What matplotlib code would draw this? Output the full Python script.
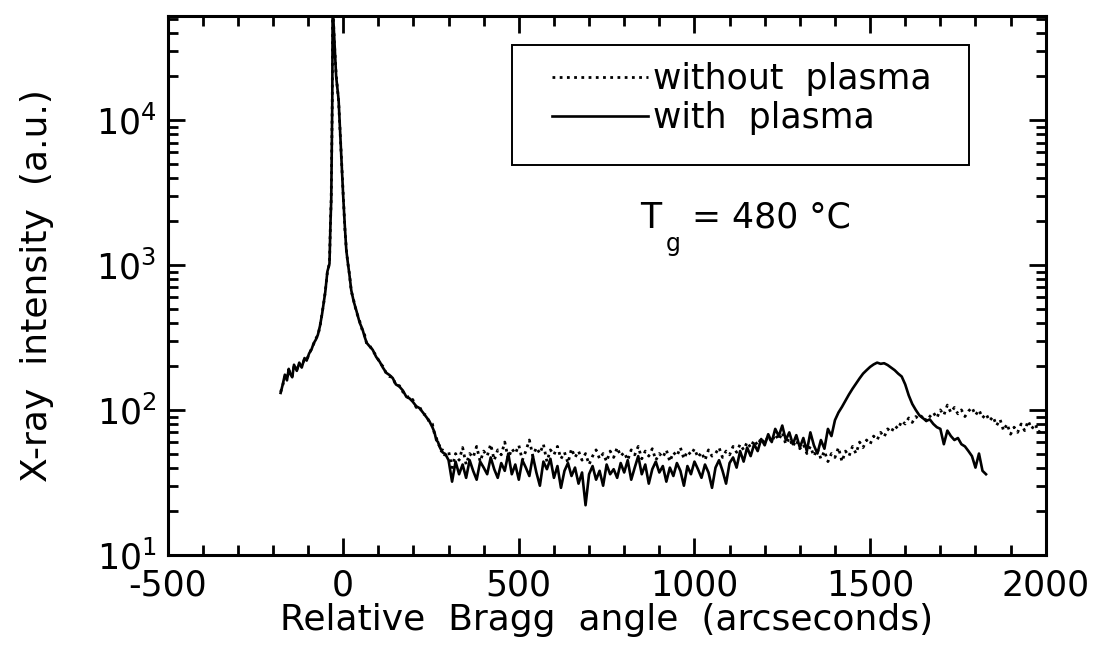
import numpy as np
import matplotlib
matplotlib.use('Agg')
import matplotlib.pyplot as plt
from matplotlib.ticker import LogLocator, FixedLocator, NullFormatter
from matplotlib.patches import Rectangle

plt.rcParams['font.family'] = ['DejaVu Sans']
plt.rcParams['axes.unicode_minus'] = False

# --- Bragg peak region ---
peak_x = [-178, -172, -166, -160, -155, -150, -145, -140, -132, -125, -118, -110,
          -104, -97, -90, -84, -78, -72, -66, -60, -55, -51, -45, -39, -36, -34,
          -31, -30, -28, -25, -20, -13, -6, 0, 5, 9, 13, 18, 23, 30, 37, 47, 55,
          61, 67, 75, 84, 94, 104, 113, 123, 132, 141, 150, 160, 170, 180, 189,
          198, 208, 217, 227, 237, 245, 254, 260, 265, 270, 274, 279, 283, 288, 294]
peak_with = [131, 150, 175, 160, 192, 176, 168, 205, 186, 212, 196, 228,
             219, 245, 262, 288, 305, 330, 380, 460, 560, 650, 900, 1020, 2000, 2800,
             13800, 60000, 50000, 35000, 20000, 13800, 6100, 3000, 1800, 1260, 1050, 850, 670, 560, 490, 400, 360,
             320, 290, 275, 260, 232, 215, 196, 180, 174, 166, 150, 145, 136, 123, 120,
             114, 106, 103, 96, 89, 84, 76, 70, 62, 60, 56, 53, 51, 50, 48]
peak_without = [133, 148, 170, 163, 188, 178, 170, 200, 190, 208, 199, 225,
                222, 242, 265, 285, 310, 328, 375, 465, 555, 655, 890, 1030, 2050, 2900,
                14000, 61000, 50500, 34000, 20500, 13500, 6200, 3100, 1750, 1280, 1040, 860, 660, 570, 480, 410, 350,
                330, 285, 280, 255, 238, 212, 200, 178, 170, 168, 148, 147, 133, 128, 117,
                118, 104, 106, 94, 92, 82, 80, 68, 65, 58, 57, 52, 53, 49, 50]

# --- background / layer peak region, 10 arcsec steps ---
with_x = np.arange(300, 1840, 10)
with_y = [45, 32, 44, 36, 42, 34, 45, 38, 33, 44,
          40, 36, 47, 39, 34, 43, 38, 50, 36, 42,
          33, 45, 40, 35, 48, 37, 30, 44, 39, 46,
          34, 41, 29, 38, 43, 35, 40, 31, 37, 22,
          36, 41, 33, 38, 30, 42, 36, 39, 34, 43,
          37, 45, 33, 40, 48, 36, 42, 31, 39, 44,
          37, 41, 32, 40, 35, 43, 38, 30, 41, 36,
          44, 39, 34, 42, 37, 29, 40, 45, 38, 31,
          43, 47, 40, 52, 44, 55, 48, 58, 52, 63,
          57, 68, 60, 74, 66, 78, 62, 70, 58, 67,
          55, 64, 52, 70, 57, 50, 62, 54, 74, 66,
          85, 96, 105, 116, 128, 140, 152, 165, 178, 188,
          198, 206, 212, 208, 210, 204, 196, 188, 178, 170,
          150, 126, 110, 100, 92, 88, 84, 86, 80, 76,
          74, 58, 72, 66, 62, 64, 58, 56, 52, 48,
          40, 50, 38, 36]

without_x = np.arange(300, 2000, 10)
without_y = [52, 40, 50, 45, 55, 42, 50, 47, 56, 44,
             52, 48, 58, 45, 53, 49, 60, 46, 54, 50,
             57, 45, 52, 62, 48, 55, 50, 58, 44, 53,
             49, 56, 46, 51, 43, 54, 47, 52, 45, 50,
             42, 48, 53, 46, 50, 44, 52, 47, 55, 48,
             51, 45, 53, 49, 56, 46, 52, 48, 54, 45,
             50, 47, 53, 44, 51, 48, 55, 46, 52, 49,
             54, 47, 51, 45, 53, 48, 50, 55, 47, 52,
             49, 56, 51, 58, 53, 60, 55, 62, 57, 64,
             59, 66, 60, 68, 62, 70, 58, 64, 56, 62,
             54, 58, 50, 56, 48, 54, 46, 52, 44, 50,
             47, 55, 44, 52, 48, 56, 50, 60, 55, 62,
             58, 66, 62, 70, 65, 74, 70, 78, 74, 84,
             80, 88, 82, 90, 86, 92, 84, 90, 96, 88,
             100, 92, 108, 96, 104, 94, 100, 90, 98, 104,
             92, 100, 88, 94, 84, 90, 78, 86, 72, 80,
             68, 76, 70, 80, 72, 84, 74, 80, 70, 76]

x_with = np.concatenate([peak_x, with_x])
y_with = np.concatenate([peak_with, with_y])
x_without = np.concatenate([peak_x, without_x])
y_without = np.concatenate([peak_without, without_y])

fig = plt.figure(figsize=(10.95, 6.52), dpi=100)
ax = fig.add_axes([0.153, 0.149, 0.802, 0.826])

ax.plot(x_without, y_without, color='black', lw=2.0, linestyle=(0, (1, 1.6)),
        label='without  plasma')
ax.plot(x_with, y_with, color='black', lw=1.9, label='with  plasma')

ax.set_yscale('log')
ax.set_xlim(-500, 2000)
ax.set_ylim(10, 5.2e4)

ax.set_xticks([-500, 0, 500, 1000, 1500, 2000])
ax.xaxis.set_minor_locator(FixedLocator(np.arange(-500, 2001, 100)))
ax.yaxis.set_major_locator(LogLocator(base=10, numticks=10))
ax.yaxis.set_minor_locator(LogLocator(base=10, subs=np.arange(2, 10), numticks=50))
ax.yaxis.set_minor_formatter(NullFormatter())

ax.tick_params(which='both', direction='in', top=True, right=True, width=2,
               labelsize=25)
ax.tick_params(which='major', length=12, pad=8)
ax.tick_params(axis='x', which='major', pad=10)
ax.tick_params(which='minor', length=7)
for s in ax.spines.values():
    s.set_linewidth(2.2)

ax.set_xlabel('Relative  Bragg  angle  (arcseconds)', fontsize=26, labelpad=0)
ax.set_ylabel('X-ray  intensity  (a.u.)', fontsize=26, labelpad=30)

# legend box drawn separately so padding matches the original
ax.add_patch(Rectangle((0.392, 0.724), 0.521, 0.222, transform=ax.transAxes,
                       fill=False, edgecolor='black', lw=1.4, zorder=5))
leg = ax.legend(loc='upper left', bbox_to_anchor=(0.438, 0.915), fontsize=25,
                frameon=False, handlelength=2.75, handletextpad=0.15,
                borderpad=0, labelspacing=0.15, borderaxespad=0)

ax.text(0.538, 0.607, 'T', transform=ax.transAxes, fontsize=25)
ax.text(0.567, 0.565, 'g', transform=ax.transAxes, fontsize=17)
ax.text(0.597, 0.607, '= 480 °C', transform=ax.transAxes, fontsize=25)

fig.savefig('out.png', dpi=100)
